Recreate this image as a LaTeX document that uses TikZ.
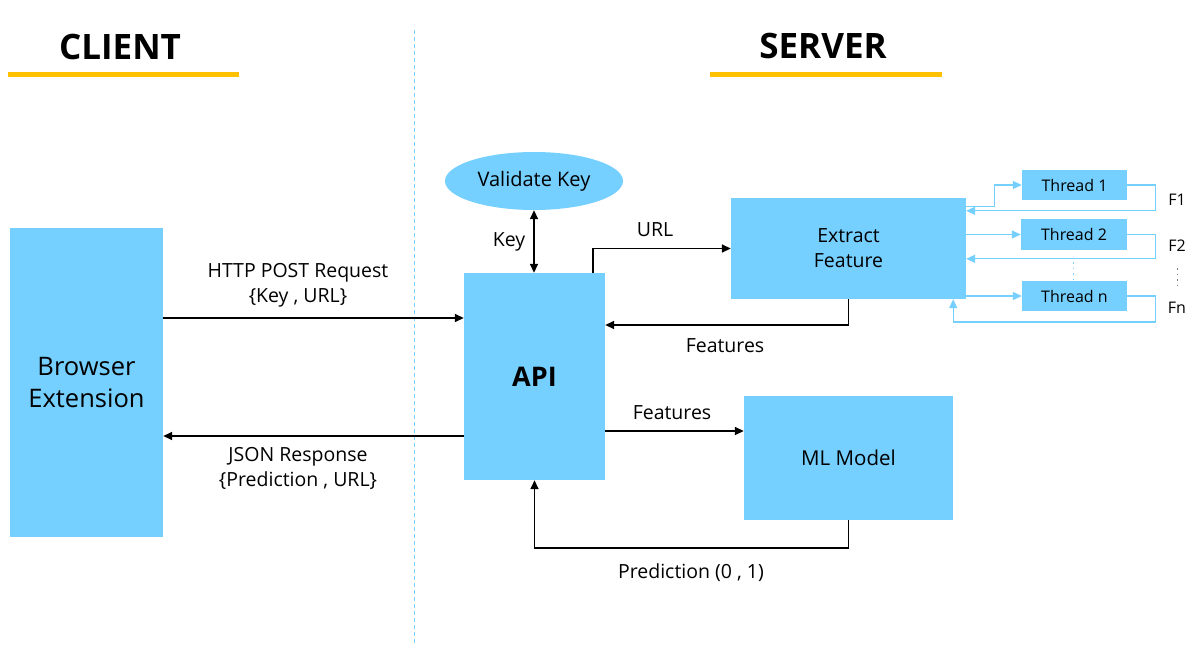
\documentclass[tikz,border=0pt]{standalone}
\usepackage{fontspec}
\setmainfont{Open Sans}
\usetikzlibrary{arrows.meta,calc,shapes.geometric}
\definecolor{boxblue}{HTML}{75CFFF}
\definecolor{linkblue}{HTML}{75CFFF}
\definecolor{gold}{HTML}{FFC000}
\tikzset{
  box/.style={fill=boxblue,draw=none,inner sep=0pt,align=center,text=black},
  arr/.style={draw=black,line width=1.6pt,-{Triangle[length=9pt,width=8pt]}},
  darr/.style={draw=black,line width=1.6pt,{Triangle[length=9pt,width=8pt]}-{Triangle[length=9pt,width=8pt]}},
  tarr/.style={draw=linkblue,line width=1.2pt,-{Triangle[length=9pt,width=8pt]}},
  lbl/.style={font=\fontsize{19.5}{25}\selectfont,align=center,inner sep=0pt},
  flbl/.style={font=\fontsize{16}{18}\selectfont,inner sep=0pt},
  head/.style={font=\fontsize{35}{40}\selectfont\bfseries,inner sep=0pt},
  bar/.style={draw=gold,line width=5pt},
}
\begin{document}
\begin{tikzpicture}[x=1pt,y=-1pt]
\useasboundingbox (0,0) rectangle (1190,646);
% headers
\node[head] (client) at (120,47) {CLIENT};
\node[head] (server) at (823,46) {SERVER};
\draw[bar] (8,74) -- (239,74);
\draw[bar] (710,74) -- (942,74);
% divider
\draw[draw=linkblue,line width=0.8pt,dash pattern=on 4pt off 3pt] (414,30) -- (414,645);
% boxes
\node[box,minimum width=153pt,minimum height=309pt,font=\fontsize{25.5}{32}\selectfont] (be) at (86.5,382.5) {Browser\\Extension};
\node[box,minimum width=141pt,minimum height=207pt,font=\fontsize{27}{30}\selectfont\bfseries] (api) at (534.5,376.5) {API};
\node[box,ellipse,minimum width=178pt,minimum height=58pt,font=\fontsize{20}{22}\selectfont] (vk) at (534,181) {Validate Key};
\node[box,minimum width=235pt,minimum height=101pt,font=\fontsize{19.5}{25}\selectfont] (ef) at (848.5,248.5) {Extract\\Feature};
\node[box,minimum width=209pt,minimum height=124pt,font=\fontsize{20.5}{24}\selectfont] (ml) at (848.5,458) {ML Model};
\node[box,minimum width=105pt,minimum height=30pt,font=\fontsize{16}{18}\selectfont] (t1) at (1074.5,185) {Thread 1};
\node[box,minimum width=106pt,minimum height=31pt,font=\fontsize{16}{18}\selectfont] (t2) at (1074,234.5) {Thread 2};
\node[box,minimum width=105pt,minimum height=30pt,font=\fontsize{16}{18}\selectfont] (tn) at (1074.5,296) {Thread n};
% client-server arrows
\draw[arr] ([yshift=64.5pt]be.east) coordinate (h) -- (h -| api.west);
\node[lbl] (lhttp) at (298,285) {HTTP POST Request\\\{Key , URL\}};
\draw[arr] ([yshift=-59.5pt]api.west) coordinate (j) -- (j -| be.east);
\node[lbl] (ljson) at (298,468) {JSON Response\\\{Prediction , URL\}};
% key
\draw[darr] (vk.south) -- (vk.south |- api.north);
\node[lbl] (lkey) at (509,242) {Key};
% URL
\draw[arr] ([xshift=-12pt]api.north east) |- (ef.west);
\node[lbl] (lurl) at (655,230) {URL};
% features back
\draw[arr] (ef.south) |- ([yshift=51.5pt]api.east);
\node[lbl] (lf1) at (725,346) {Features};
% features to ML
\draw[arr] ([yshift=-54.5pt]api.east) coordinate (f) -- (f -| ml.west);
\node[lbl] (lf2) at (672,413) {Features};
% prediction
\draw[arr] (ml.south) -- ++(0,28) -| (api.south);
\node[lbl] (lpred) at (691,573) {Prediction (0 , 1)};
% threads
\draw[tarr] ([yshift=-9pt]ef.north east) -- ++(28,0) |- (t1.west);
\draw[tarr] (t1.east) -- ++(28,0) |- ([yshift=-13pt]ef.north east);
\draw[tarr] (ef.east |- t2.west) -- (t2.west);
\draw[tarr] (t2.east) -- ++(28,0) |- ([yshift=-61pt]ef.north east);
\draw[tarr] (ef.east |- tn.west) -- (tn.west);
\draw[tarr] (tn.east) -- ++(28,0) -- ++(0,26) -| ([xshift=-13pt]ef.south east);
\draw[draw=linkblue,line width=1pt,dash pattern=on 1.5pt off 4pt] (1073,262) -- (1073,280);
\node[flbl] (F1) at (1177,200) {F1};
\node[flbl] (F2) at (1177,246) {F2};
\node[flbl] (Fn) at (1177,308) {Fn};
\draw[draw=gray,line width=0.8pt,dash pattern=on 1.5pt off 4pt] (1177,268) -- (1177,286);
\end{tikzpicture}
\end{document}
